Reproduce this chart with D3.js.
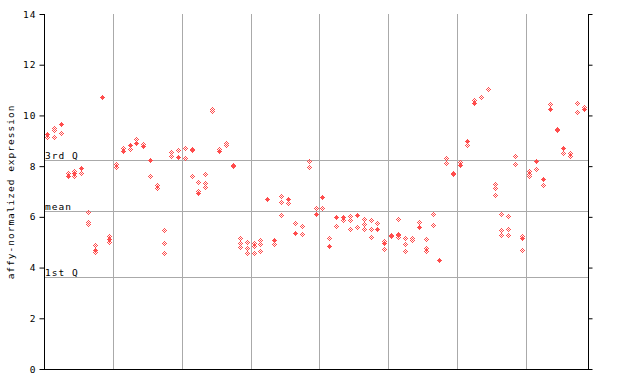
<!DOCTYPE html>
<html><head><meta charset="utf-8">
<script src="https://cdn.jsdelivr.net/npm/d3@7"></script>
<style>body{margin:0;background:#fff}svg{display:block}text{font-family:"DejaVu Sans Mono",monospace;font-size:9.5px;letter-spacing:1px;fill:#000}</style>
</head><body><svg id="c" width="640" height="384"></svg>
<script>
const yTicks = [0, 2, 4, 6, 8, 10, 12, 14];
const refLines = [{label: "3rd Q", value: 8.23}, {label: "mean", value: 6.23}, {label: "1st Q", value: 3.63}];
const yTitle = "affy-normalized expression";
const groupSize = 10;
// filled (solid) diamond value for each sample column, null if none
const filledVals = [9.25,null,9.65,7.58,7.72,7.9,null,4.68,10.7,5.1,
  null,8.57,8.83,8.9,8.77,8.21,null,null,null,8.33,
  null,null,6.94,null,null,8.58,null,7.98,null,null,
  null,null,6.68,5.05,null,6.68,5.36,null,null,6.09,
  6.76,4.82,5.97,5.97,null,6.05,null,null,5.52,4.93,
  null,5.26,null,null,5.6,null,null,4.27,null,7.68,
  8.02,8.96,10.48,null,null,null,null,null,null,5.14,
  null,8.18,7.48,10.23,null,8.69,null,null,10.24];
// hatched (checkered) diamond values for each sample column
const hatchedVals = [[9.13],[9.5,9.42,9.13],[9.27],[7.7],[7.8,7.6],[7.72],[6.18,5.78,5.7],[4.87,4.58],[],[5.22,4.98],
  [8.07,7.94],[8.68],[8.66],[9.06],[8.87],[7.58],[7.22,7.12],[5.47,4.96,4.54],[8.53,8.37],[8.63],
  [8.7,8.31],[8.66,8.6,7.6],[7.36,7.0],[7.68,7.32,7.17],[10.22,10.15],[8.66],[8.91,8.81],[8.04],[5.14,4.94,4.78],[4.98,4.76,4.56],
  [4.94,4.82,4.54],[5.07,4.92,4.64],[],[4.92],[6.81,6.57,6.06],[6.53],[5.74],[5.63,5.31],[8.18,7.94],[6.34],
  [6.34],[5.15],[5.63],[5.85],[6.0,5.84,5.51],[5.59],[5.88,5.68,5.52],[5.84,5.52,5.19],[5.72],[5.01,4.73],
  [5.28,5.21],[5.88,5.31,5.17],[5.15,4.92,4.64],[5.15,5.07],[5.76],[5.09,4.76,4.63],[6.11,5.67],[],[8.31,8.11],[7.72],
  [8.15],[8.82],[10.59],[10.69],[11.03],[7.28,7.13,6.85],[6.1,5.47,5.25],[6.0,5.51,5.28],[8.4,8.07],[5.22,4.68],
  [7.79,7.69,7.58],[7.88],[7.23],[10.45],[9.45,9.4],[8.5],[8.5,8.4],[10.48,10.12],[10.3]];

const red = "#ff4d4d", grid = "#aaaaaa";
const L = 44, R = 588, T = 14, B = 369;
const svg = d3.select("#c");
const n = filledVals.length;
const x = d3.scaleBand().domain(d3.range(n)).range([L, R]).padding(0);
const y = d3.scaleLinear().domain([0, 14]).range([B, T]);

// vertical group separators
const seps = d3.range(groupSize, n, groupSize);
svg.append("g").selectAll("line").data(seps).join("line")
  .attr("x1", d => Math.round(x(d)) + 0.5).attr("x2", d => Math.round(x(d)) + 0.5)
  .attr("y1", T).attr("y2", B).attr("stroke", grid).attr("stroke-width", 1);
// reference lines
svg.append("g").selectAll("line").data(refLines).join("line")
  .attr("x1", L).attr("x2", R)
  .attr("y1", d => Math.round(y(d.value)) + 0.5).attr("y2", d => Math.round(y(d.value)) + 0.5)
  .attr("stroke", grid);
svg.append("g").selectAll("text").data(refLines).join("text")
  .attr("x", L + 1).attr("y", d => Math.round(y(d.value)) - 1.5).text(d => d.label);

// pixel diamonds (5x5); filled = all pixels, checkered = pixels with even dx+dy
function pix(cx, cy, checker) {
  cx = Math.floor(cx); cy = Math.floor(cy);
  let p = "";
  for (let dy = -2; dy <= 2; dy++) for (let dx = -2; dx <= 2; dx++) {
    if (Math.abs(dx) + Math.abs(dy) > 2) continue;
    if (checker && (dx + dy) % 2 !== 0) continue;
    p += `M${cx + dx},${cy + dy}h1v1h-1Z`;
  }
  return p;
}
const hatchedPts = [];
hatchedVals.forEach((arr, i) => arr.forEach(v => hatchedPts.push({i, v})));
const filledPts = filledVals.map((v, i) => ({i, v})).filter(d => d.v !== null);
const cx = i => x(i) + x.bandwidth() / 2;
svg.append("g").selectAll("path").data(hatchedPts).join("path")
  .attr("d", d => pix(cx(d.i), y(d.v), true)).attr("fill", red).attr("shape-rendering", "crispEdges");
svg.append("g").selectAll("path").data(filledPts).join("path")
  .attr("d", d => pix(cx(d.i), y(d.v), false)).attr("fill", red).attr("shape-rendering", "crispEdges");

// axes
const axL = svg.append("g").attr("transform", `translate(${L + 0.5},0)`)
  .call(d3.axisLeft(y).tickValues(yTicks).tickSize(5).tickPadding(3).tickFormat(d3.format("d")));
const axR = svg.append("g").attr("transform", `translate(${R + 0.5},0)`)
  .call(d3.axisRight(y).tickValues(yTicks).tickSize(4).tickFormat(""));
[axL, axR].forEach(a => {
  a.select(".domain").attr("stroke", "#000").attr("d", `M0,${T}V${B}`);
  a.selectAll(".tick line").attr("stroke", "#000");
  a.selectAll("text").attr("font-family", "DejaVu Sans Mono").attr("font-size", "9.5px").attr("fill", "#000");
});
svg.append("line").attr("x1", L).attr("x2", R + 1).attr("y1", B + 0.5).attr("y2", B + 0.5).attr("stroke", "#000");
svg.append("text").attr("transform", `translate(14,192) rotate(-90)`)
  .attr("text-anchor", "middle").text(yTitle);
</script></body></html>
